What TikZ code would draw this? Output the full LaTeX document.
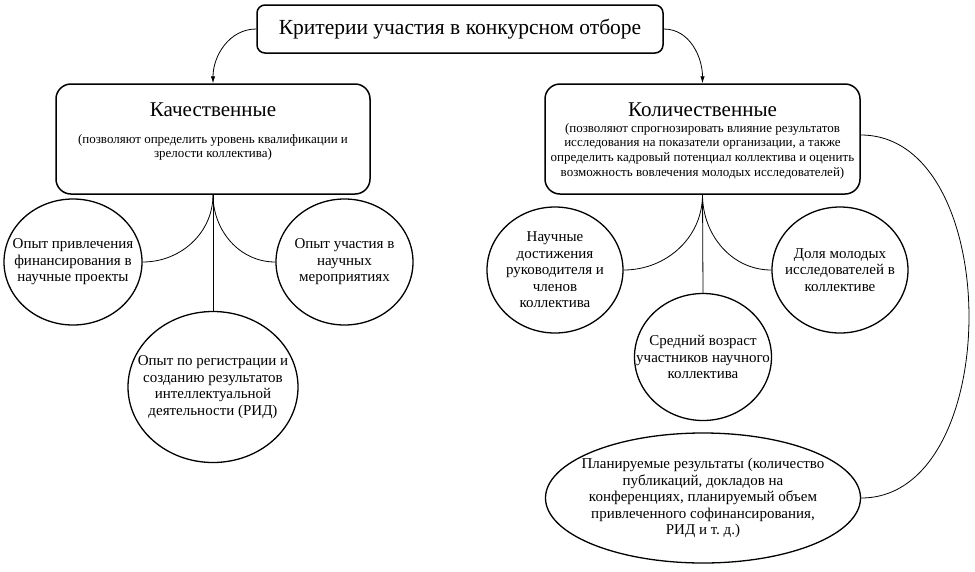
\documentclass[tikz,border=0pt]{standalone}
\usepackage{fontspec}
\setmainfont{Liberation Serif}
\usetikzlibrary{arrows.meta,shapes.geometric}
\frenchspacing
\begin{document}
\begin{tikzpicture}[x=1pt,y=-1pt,
  box/.style={draw, rounded corners=15pt, line width=1.5pt, inner sep=0pt},
  topbox/.style={draw, rounded corners=8pt, line width=1.5pt, inner sep=0pt,
    minimum width=406pt, minimum height=48pt, font=\fontsize{21.5}{24}\selectfont},
  circ/.style={draw, ellipse, line width=1.3pt, inner sep=0pt},
  ctext/.style={align=center, inner sep=0pt, font=\fontsize{15}{16.5}\selectfont},
  htitle/.style={inner sep=0pt, font=\fontsize{21}{24}\selectfont},
  sub/.style={align=center, inner sep=0pt, font=\fontsize{13}{14.6}\selectfont},
  link/.style={line width=0.8pt},
  arr/.style={line width=0.8pt, -{Latex[length=7pt,width=4.5pt]}}
]
\useasboundingbox (0,0) rectangle (975,571);
\fill[white] (0,0) rectangle (975,571);

\node[topbox] (top) at (460,29) {Критерии участия в конкурсном отборе};

\node[box, minimum width=314pt, minimum height=110pt] (kach) at (213,139) {};
\node[htitle] (kachT) at (213,110) {Качественные};
\node[sub] (kachS) at (213,147.5) {(позволяют определить уровень квалификации и\\зрелости коллектива)};

\node[box, minimum width=315pt, minimum height=110pt] (kol) at (702.5,139) {};
\node[htitle] (kolT) at (702.5,110) {Количественные};
\node[sub] (kolS) at (702.5,151) {(позволяют спрогнозировать влияние результатов\\исследования на показатели организации, а также\\определить кадровый потенциал коллектива и оценить\\возможность вовлечения молодых исследователей)};

% left circles
\node[circ, minimum width=138pt, minimum height=126pt] (c1) at (73,262) {};
\node[ctext] (c1t) at (c1) {Опыт привлечения\\финансирования в\\научные проекты};
\node[circ, minimum width=137pt, minimum height=126pt] (c2) at (344.5,262) {};
\node[ctext] (c2t) at (c2) {Опыт участия в\\научных\\мероприятиях};
\node[circ, minimum width=170pt, minimum height=151pt] (c3) at (213,387) {};
\node[ctext] (c3t) at (c3) {Опыт по регистрации и\\созданию результатов\\интеллектуальной\\деятельности (РИД)};

% right circles
\node[circ, minimum width=136pt, minimum height=126pt] (r1) at (555,270) {};
\node[ctext] (r1t) at (r1) {Научные\\достижения\\руководителя и\\членов\\коллектива};
\node[circ, minimum width=136pt, minimum height=126pt] (r2) at (840,270) {};
\node[ctext] (r2t) at (r2) {Доля молодых\\исследователей в\\коллективе};
\node[circ, minimum width=137pt, minimum height=127pt] (r3) at (703,357) {};
\node[ctext] (r3t) at (r3) {Средний возраст\\участников научного\\коллектива};
\node[circ, minimum width=315pt, minimum height=130pt] (ell) at (703,498) {};
\node[ctext] (ellt) at (ell) {Планируемые результаты (количество\\публикаций, докладов на\\конференциях, планируемый объем\\привлеченного софинансирования,\\РИД и т. д.)};

% connectors
\draw[arr] (top.west) to[out=180,in=90] (kach.north);
\draw[arr] (top.east) to[out=0,in=90] (kol.north);
\draw[link] (kach.south) to[out=-90,in=0] (c1.east);
\draw[link] (kach.south) to[out=-90,in=180] (c2.west);
\draw[link] (kach.south) -- (c3.north);
\draw[link] (kol.south) to[out=-90,in=0] (r1.east);
\draw[link] (kol.south) to[out=-90,in=180] (r2.west);
\draw[link] (kol.south) -- (r3.north);
\draw[link] ([yshift=4pt]kol.east) .. controls (1005,135) and (1005,498) .. (ell.east);
\end{tikzpicture}
\end{document}
